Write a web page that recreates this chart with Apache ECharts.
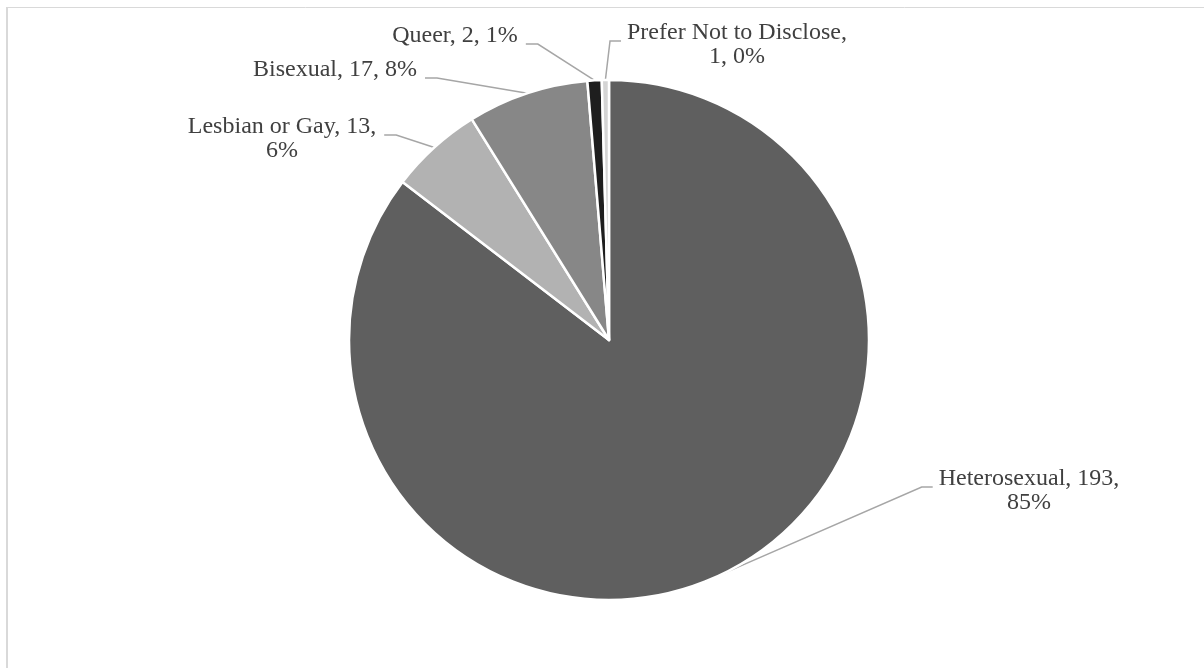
<!DOCTYPE html>
<html>
<head>
<meta charset="utf-8">
<style>
  html, body { margin: 0; padding: 0; background: #ffffff; }
  #chart { width: 1204px; height: 668px; }
</style>
<script src="https://cdn.jsdelivr.net/npm/echarts@6/dist/echarts.min.js"></script>
</head>
<body>
<div id="chart"></div>
<script>
// ---- data ----
const categories = ['Heterosexual', 'Lesbian or Gay', 'Bisexual', 'Queer', 'Prefer Not to Disclose'];
const counts = [193, 13, 17, 2, 1];
// whether the label wraps before the percentage (true) or before the count (0)
const wrapMode = ['pct', 'pct', 'none', 'none', 'count'];

// ---- styling / layout (not data) ----
const sliceColors = ['#5f5f5f', '#b2b2b2', '#878787', '#1e1e1e', '#d4d4d4'];
const labelCenters = [[1029, 491], [282, 139], [335, 70], [455, 36], [737, 45]];
const FONT_SIZE = 24, LINE_H = 24, FONT_FAMILY = 'Liberation Serif';

const chart = echarts.init(document.getElementById('chart'), null, { renderer: 'canvas' });

function labelText(i, pct) {
  const n = categories[i], v = counts[i], p = Math.round(pct) + '%';
  if (wrapMode[i] === 'pct') return n + ', ' + v + ',\n' + p;
  if (wrapMode[i] === 'count') return n + ',\n' + v + ', ' + p;
  return n + ', ' + v + ', ' + p;
}

const total = counts.reduce((a, b) => a + b, 0);
const measureCtx = document.createElement('canvas').getContext('2d');
measureCtx.font = FONT_SIZE + 'px "' + FONT_FAMILY + '"';
function blockWidth(i) {
  const txt = labelText(i, counts[i] / total * 100);
  return Math.max.apply(null, txt.split('\n').map(s => measureCtx.measureText(s).width));
}
function blockLines(i) {
  return labelText(i, counts[i] / total * 100).split('\n').length;
}

const option = {
  animation: false,
  backgroundColor: '#ffffff',
  graphic: [
    { type: 'line', shape: { x1: 6, y1: 7.5, x2: 1204, y2: 7.5 }, style: { stroke: '#d9d9d9', lineWidth: 1 } },
    { type: 'line', shape: { x1: 7, y1: 7, x2: 7, y2: 668 }, style: { stroke: '#d9d9d9', lineWidth: 2 } }
  ],
  series: [{
    type: 'pie',
    center: [609, 340],
    radius: 260,
    startAngle: 90,
    clockwise: true,
    avoidLabelOverlap: false,
    itemStyle: { borderColor: '#ffffff', borderWidth: 2.5 },
    label: {
      show: true,
      formatter: p => labelText(p.dataIndex, p.percent),
      fontFamily: FONT_FAMILY,
      fontSize: FONT_SIZE,
      lineHeight: LINE_H,
      color: '#404040',
      align: 'center'
    },
    labelLine: {
      show: true,
      length: 15,
      length2: 15,
      lineStyle: { color: '#a6a6a6', width: 1.5 }
    },
    labelLayout: function (params) {
      const i = params.dataIndex;
      const c = labelCenters[i];
      const w = blockWidth(i);
      const h = blockLines(i) * LINE_H;
      const top = c[1] - h / 2;
      const lineY = top + 20;
      const pts = params.labelLinePoints;
      let newPts = null;
      if (pts && pts.length) {
        const p0 = pts[0];
        const isRight = c[0] > 609 && i !== 3;
        let p2x, p1x;
        if (isRight) {
          p2x = c[0] - w / 2 - 6;
          p1x = p2x - 11;
        } else {
          p2x = c[0] + w / 2 + 8;
          p1x = p2x + 12;
        }
        newPts = [[p0[0], p0[1]], [p1x, lineY], [p2x, lineY]];
      }
      const res = {
        x: c[0],
        y: c[1],
        align: 'center',
        verticalAlign: 'middle',
        hideOverlap: false,
        moveOverlap: null
      };
      if (newPts) res.labelLinePoints = newPts;
      return res;
    },
    data: categories.map((name, i) => ({
      name: name,
      value: counts[i],
      itemStyle: { color: sliceColors[i] }
    }))
  }]
};

chart.setOption(option);
</script>
</body>
</html>
